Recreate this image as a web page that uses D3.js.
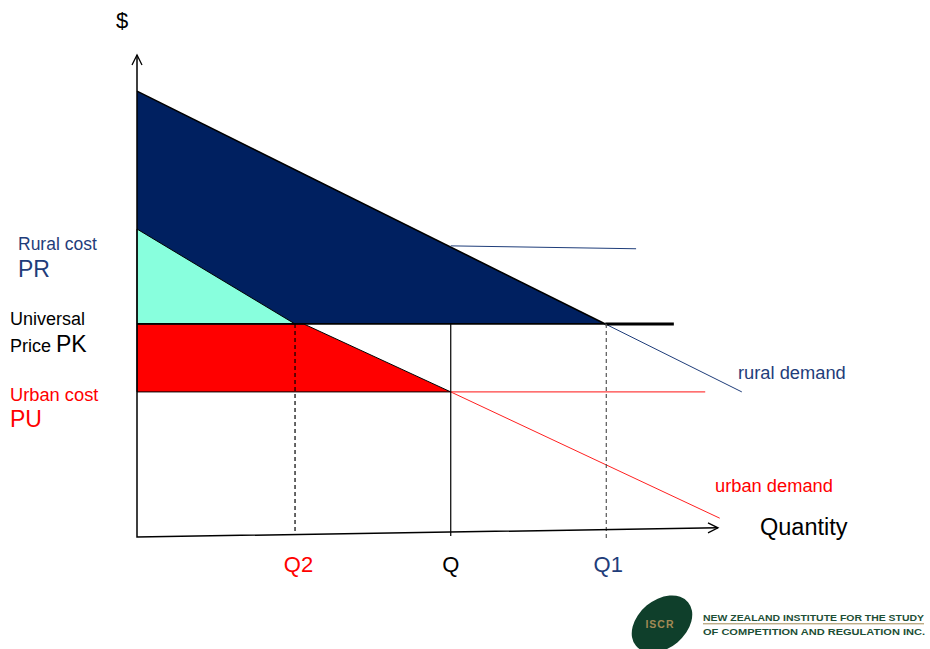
<!DOCTYPE html>
<html>
<head>
<meta charset="utf-8">
<script src="https://cdn.jsdelivr.net/npm/d3@7"></script>
<style>
  html, body { margin: 0; padding: 0; background: #fff; }
  svg { display: block; }
  text { font-family: "Liberation Sans", Arial, sans-serif; }
</style>
</head>
<body>
<svg id="chart" width="930" height="649"></svg>
<script>
// ---- Data (arbitrary units: quantity 0-100, price 0-100) ----
const quantityLabels = ["Q2", "Q", "Q1"];
const quantityValues = [27.2, 54.0, 80.6];
const quantityColors = ["#ff0000", "#000000", "#1f3d7a"];

const priceLabels = ["PR", "PK", "PU"];
const priceValues = [60.2, 44.2, 30.1];

// rural demand curve
const ruralDemand = [[0, 92.5], [80.6, 44.2], [104.1, 30.1]];
// urban demand curve (as drawn, with its small kink at Q2)
const urbanDemand = [[0, 63.9], [27.2, 44.2], [28.7, 44.2], [54.0, 30.1], [100.3, 3.9]];
// rural cost level, drawn from the rural demand curve at Q
const ruralCostLine = [[54.0, 60.4], [85.9, 59.8]];
// universal price and urban cost levels
const pkLineEnd = 92.4;
const puLineEnd = 97.8;
// x axis end (axis drawn slightly tilted)
const xAxisEnd = [100, 1.9];
const yAxisEnd = [0, 100];

// ---- Scales ----
const x = d3.scaleLinear().domain([0, 100]).range([137, 718]);
const y = d3.scaleLinear().domain([0, 100]).range([537, 55]);
const line = d3.line().x(d => x(d[0])).y(d => y(d[1]));

const svg = d3.select("#chart");
const g = svg.append("g");

const PR = priceValues[0], PK = priceValues[1], PU = priceValues[2];
const Q2 = quantityValues[0], Q = quantityValues[1], Q1 = quantityValues[2];

// navy area: between rural demand and PK
g.append("path")
  .attr("d", line([ruralDemand[0], ruralDemand[1], [0, PK]]) + "Z")
  .attr("fill", "#002060");

// cyan triangle: under urban demand above PK
g.append("path")
  .attr("d", line([urbanDemand[0], urbanDemand[1], [0, PK]]) + "Z")
  .attr("fill", "#88ffdd")
  .attr("stroke", "#000").attr("stroke-width", 1);

// red area between PK and PU under urban demand
g.append("path")
  .attr("d", line([[0, PK], urbanDemand[2], urbanDemand[3], [0, PU]]) + "Z")
  .attr("fill", "#ff0000")
  .attr("stroke", "#000").attr("stroke-width", 1);

// rural demand: black edge on area, thin navy beyond Q1
g.append("path")
  .attr("d", line(ruralDemand.slice(0, 2)))
  .attr("fill", "none").attr("stroke", "#000").attr("stroke-width", 1.6);
g.append("path")
  .attr("d", line(ruralDemand.slice(1)))
  .attr("fill", "none").attr("stroke", "#1f3d7a").attr("stroke-width", 1);

// urban demand tail
g.append("path")
  .attr("d", line(urbanDemand.slice(3)))
  .attr("fill", "none").attr("stroke", "#ff2020").attr("stroke-width", 1);

// urban cost line (PU) beyond Q
g.append("path")
  .attr("d", line([[Q, PU], [puLineEnd, PU]]))
  .attr("fill", "none").attr("stroke", "#ff4040").attr("stroke-width", 1.2);

// universal price line (PK)
g.append("path")
  .attr("d", line([[0, PK], [Q1, PK]]))
  .attr("fill", "none").attr("stroke", "#000").attr("stroke-width", 1.8);
g.append("path")
  .attr("d", line([[Q1, PK], [pkLineEnd, PK]]))
  .attr("fill", "none").attr("stroke", "#000").attr("stroke-width", 3);

// rural cost line
g.append("path")
  .attr("d", line(ruralCostLine))
  .attr("fill", "none").attr("stroke", "#1f3d7a").attr("stroke-width", 1);

// vertical guide lines
const axisYAt = q => xAxisEnd[1] * q / xAxisEnd[0];
g.append("line")
  .attr("x1", x(Q2)).attr("x2", x(Q2))
  .attr("y1", y(PK)).attr("y2", y(axisYAt(Q2)))
  .attr("stroke", "#000").attr("stroke-width", 1.2).attr("stroke-dasharray", "4,3");
g.append("line")
  .attr("x1", x(Q)).attr("x2", x(Q))
  .attr("y1", y(PK)).attr("y2", y(axisYAt(Q)) + 4)
  .attr("stroke", "#000").attr("stroke-width", 1.2);
g.append("line")
  .attr("x1", x(Q1) + 1).attr("x2", x(Q1) + 1)
  .attr("y1", y(PK)).attr("y2", y(axisYAt(Q1)) + 10)
  .attr("stroke", "#555").attr("stroke-width", 1.2).attr("stroke-dasharray", "4,3");

// axes
g.append("path")
  .attr("d", line([yAxisEnd, [0, 0], xAxisEnd]))
  .attr("fill", "none").attr("stroke", "#000").attr("stroke-width", 1.5);
// arrowheads
const ytx = x(yAxisEnd[0]), yty = y(yAxisEnd[1]);
g.append("path")
  .attr("d", `M${ytx - 5},${yty + 10}L${ytx},${yty}L${ytx + 5},${yty + 10}`)
  .attr("fill", "none").attr("stroke", "#000").attr("stroke-width", 1.3);
const xtx = x(xAxisEnd[0]), xty = y(xAxisEnd[1]);
g.append("path")
  .attr("d", `M${xtx - 10},${xty - 5}L${xtx},${xty}L${xtx - 10},${xty + 5}`)
  .attr("fill", "none").attr("stroke", "#000").attr("stroke-width", 1.3);

// axis titles
g.append("text").attr("x", 116).attr("y", 28).attr("font-size", 22).attr("fill", "#000").text("$");
g.append("text").attr("x", 760).attr("y", 535).attr("font-size", 23.5).attr("fill", "#000").text("Quantity");

// quantity labels
const labelShift = [3.5, 0, 3];
quantityLabels.forEach((lab, i) => {
  g.append("text")
    .attr("x", x(quantityValues[i]) + labelShift[i])
    .attr("y", 572)
    .attr("text-anchor", "middle")
    .attr("font-size", 22)
    .attr("fill", quantityColors[i])
    .text(lab);
});

// price labels (left)
g.append("text").attr("x", 18).attr("y", 250).attr("font-size", 17.5).attr("fill", "#1f3d7a").text("Rural cost");
g.append("text").attr("x", 18).attr("y", 277).attr("font-size", 23).attr("fill", "#1f3d7a").text(priceLabels[0]);

g.append("text").attr("x", 10).attr("y", 325).attr("font-size", 18).attr("fill", "#000").text("Universal");
const pk = g.append("text").attr("x", 10).attr("y", 352).attr("fill", "#000");
pk.append("tspan").attr("font-size", 18).text("Price ");
pk.append("tspan").attr("font-size", 23).text(priceLabels[1]);

g.append("text").attr("x", 10).attr("y", 401).attr("font-size", 18.3).attr("fill", "#ff0000").text("Urban cost");
g.append("text").attr("x", 10).attr("y", 427).attr("font-size", 23).attr("fill", "#ff0000").text(priceLabels[2]);

// curve labels
g.append("text").attr("x", 738).attr("y", 379).attr("font-size", 18.3).attr("fill", "#1f3d7a").text("rural demand");
g.append("text").attr("x", 715).attr("y", 492).attr("font-size", 18.3).attr("fill", "#ff0000").text("urban demand");

// ---- Logo ----
const logo = svg.append("g");
logo.append("ellipse")
  .attr("cx", 662).attr("cy", 624).attr("rx", 34).attr("ry", 24)
  .attr("transform", "rotate(-40 662 624)")
  .attr("fill", "#0f3f2b");
logo.append("text")
  .attr("x", 660).attr("y", 627.5).attr("text-anchor", "middle")
  .attr("font-family", "DejaVu Sans, sans-serif").attr("font-weight", "bold")
  .attr("font-size", 10.5).attr("letter-spacing", 1).attr("fill", "#a28a55")
  .text("ISCR");
logo.append("text")
  .attr("x", 703).attr("y", 620.7)
  .attr("font-family", "DejaVu Sans, sans-serif").attr("font-weight", "bold")
  .attr("font-size", 9.6).attr("fill", "#1d4f36")
  .attr("textLength", 221).attr("lengthAdjust", "spacingAndGlyphs")
  .text("NEW ZEALAND INSTITUTE FOR THE STUDY");
logo.append("line")
  .attr("x1", 703).attr("x2", 924).attr("y1", 623.8).attr("y2", 623.8)
  .attr("stroke", "#a28a55").attr("stroke-width", 1);
logo.append("text")
  .attr("x", 703).attr("y", 634.5)
  .attr("font-family", "DejaVu Sans, sans-serif").attr("font-weight", "bold")
  .attr("font-size", 9.6).attr("fill", "#1d4f36")
  .attr("textLength", 222).attr("lengthAdjust", "spacingAndGlyphs")
  .text("OF COMPETITION AND REGULATION INC.");
</script>
</body>
</html>
